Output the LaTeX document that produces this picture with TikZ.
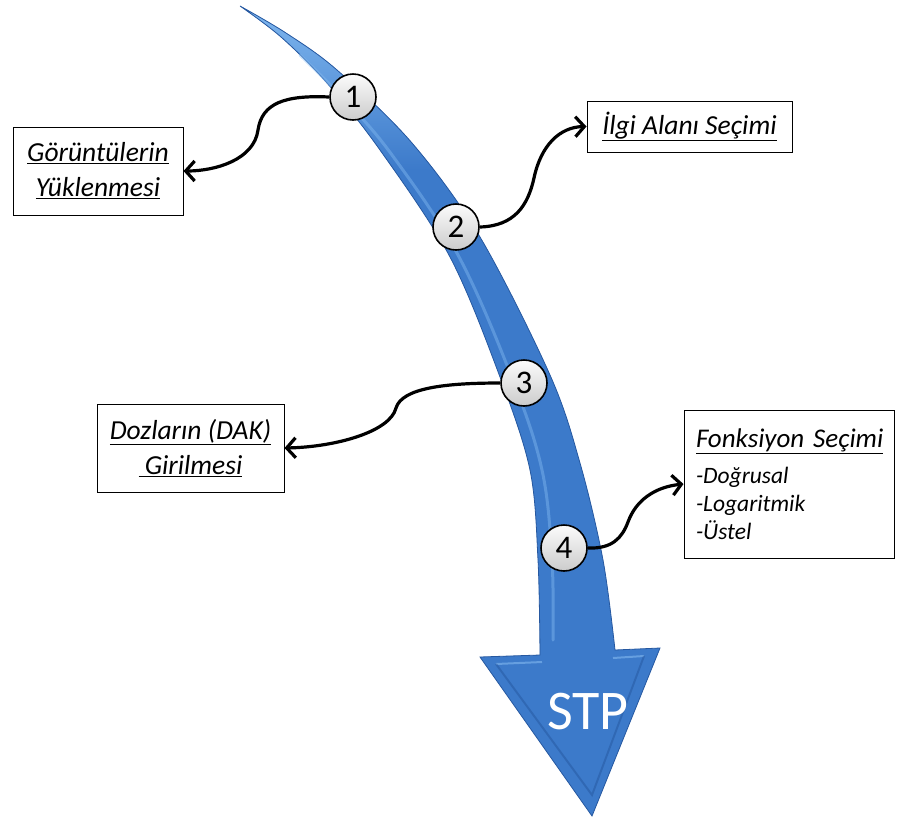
\documentclass[tikz,border=0pt]{standalone}
\usepackage{fontspec}
\setmainfont{Carlito}
\usetikzlibrary{arrows.meta, positioning}

\definecolor{bandblue}{RGB}{60,122,202}
\definecolor{bandlight}{RGB}{130,185,240}
\definecolor{banddark}{RGB}{38,88,160}

\newcommand{\bandpath}{plot[smooth, tension=0.55] coordinates {(240,6) (281,37) (327,83) (380,150) (450,257) (500,377) (530,470) (538,560) (540,655)}
  -- (480,657) -- (592,816) -- (660,648) --
  plot[smooth, tension=0.55] coordinates {(615,650) (603,560) (580,463) (550,375) (480,237) (412,143) (337,70) (286,33) (240,6)} -- cycle}

\tikzset{
  stepnum/.style={circle, draw=black, line width=1.6pt, top color=gray!3, bottom color=gray!40,
    minimum size=46pt, inner sep=0pt, font=\fontsize{33}{33}\selectfont},
  infobox/.style={draw=black, line width=1pt, fill=white, align=center, inner sep=0pt,
    font=\itshape\fontsize{27.5}{35}\selectfont},
  link/.style={line width=3.2pt, -{Straight Barb[length=9pt,width=20pt]}},
}

\begin{document}
\begin{tikzpicture}[x=1pt, y=-1pt]
            \useasboundingbox (0,0) rectangle (897,823);
            \fill[bandblue] \bandpath;
            \begin{scope}
              \clip \bandpath;
              \shade[top color=bandlight, bottom color=bandblue] (200,0) rectangle (700,170);
            \end{scope}
            \draw[banddark, line width=0.8pt] \bandpath;
            \draw[bandlight, opacity=0.45, line width=3pt, line cap=round]
              plot[smooth, tension=0.6] coordinates {(300,55) (345,100) (392,155) (458,255) (512,378) (542,470) (552,560) (553,640)};
            \draw[bandlight, opacity=0.6, line width=2pt] (496,664) -- (542,662);
            \draw[bandlight, opacity=0.6, line width=2pt] (613,658) -- (644,656);
            \draw[banddark, opacity=0.5, line width=2pt] (496,664) -- (592,795) -- (644,656);
            \node[font=\fontsize{56}{56}\selectfont, text=white] (stp) at (588,712) {STP};

            \node[stepnum] (c1) at (353,97) {1};
            \node[stepnum] (c2) at (456,227) {2};
            \node[stepnum] (c3) at (524,383) {3};
            \node[stepnum] (c4) at (564,548) {4};

            \node[infobox, minimum width=170pt, minimum height=88pt] (b1) at (98,171) {\underline{Görüntülerin}\\\underline{Yüklenmesi}};
            \node[infobox, minimum width=205pt, minimum height=51pt] (b2) at (689.5,126.5) {\underline{İlgi Alanı Seçimi}};
            \node[infobox, minimum width=187pt, minimum height=88pt] (b3) at (190.5,448) {\underline{Dozların (DAK)}\\\underline{ Girilmesi}};
            \node[infobox, minimum width=210pt, minimum height=148pt, align=left, text width=186pt, font=\itshape\fontsize{27}{31}\selectfont] (b4) at (789,484)
              {\underline{Fonksiyon Seçimi}\\[5pt]{\fontsize{23.5}{29}\selectfont -Doğrusal}\\[-3pt]{\fontsize{23.5}{29}\selectfont -Logaritmik}\\[-3pt]{\fontsize{23.5}{29}\selectfont -Üstel}};

            \draw[link] (c1.west) .. controls (285,95) and (262,103) .. (258,130) .. controls (254,160) and (215,171) .. (b1.east);
            \draw[link] (c2.east) .. controls (515,226) and (528,205) .. (534,178) .. controls (541,145) and (560,127) .. (b2.west);
            \draw[link] (c3.west) .. controls (445,383) and (402,388) .. (396,408) .. controls (390,432) and (335,447) .. (b3.east);
            \draw[link] (c4.east) .. controls (612,549) and (622,538) .. (628,522) .. controls (636,500) and (655,487) .. (b4.west);
        \end{tikzpicture}
\end{document}
